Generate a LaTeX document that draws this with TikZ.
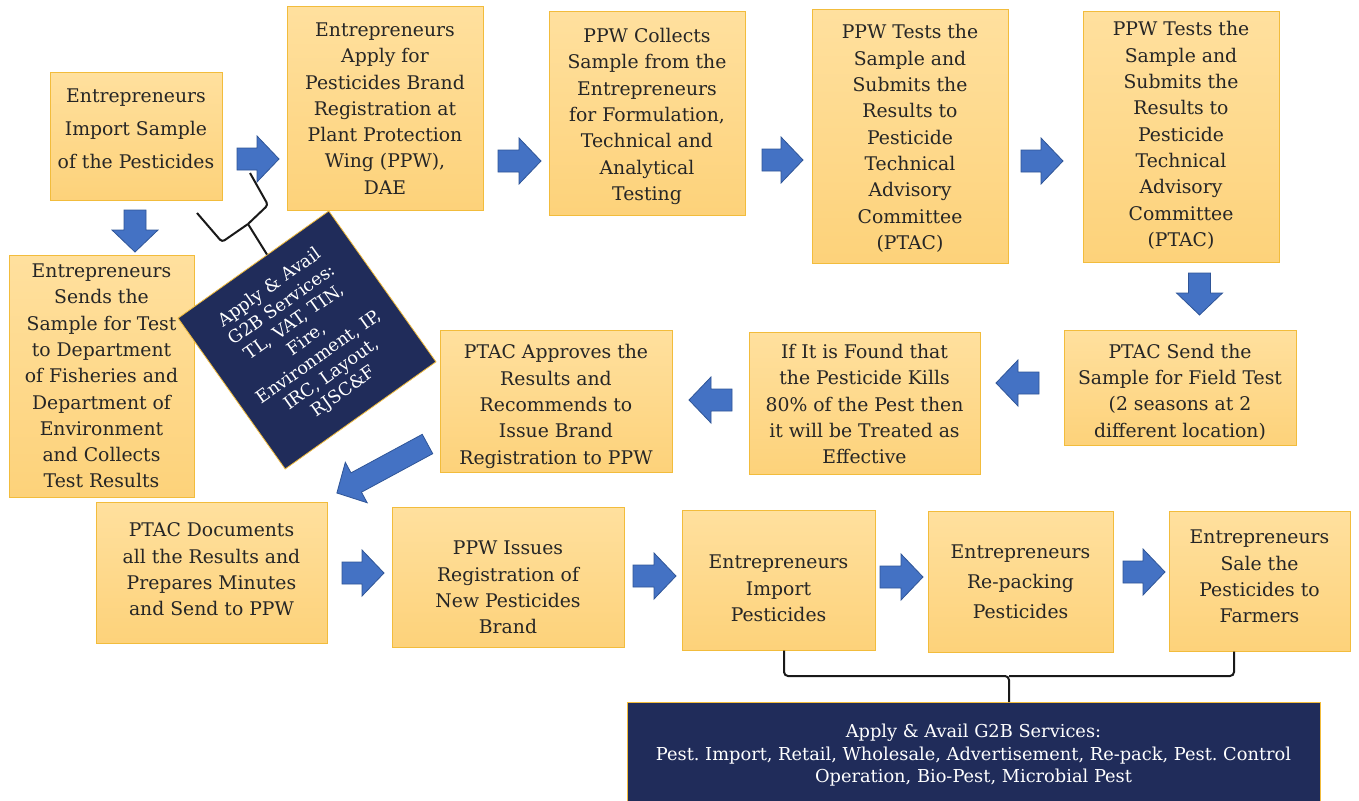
\documentclass[tikz,border=0pt]{standalone}
\usepackage{fontspec}
\setmainfont{DejaVu Serif}
\usetikzlibrary{calc}
\definecolor{boxtop}{HTML}{FFE09E}
\definecolor{boxbot}{HTML}{FDD27A}
\definecolor{boxline}{HTML}{F2BC3C}
\definecolor{navy}{HTML}{202C5A}
\definecolor{arrowfill}{HTML}{4472C4}
\definecolor{arrowline}{HTML}{2F5597}
\definecolor{txt}{HTML}{262626}
\newcommand{\blockarr}[3]{%
  \begin{scope}[shift={(#1)}, rotate=#2]
    \draw[barrowstyle] (0,-11) -- ({#3-22},-11) -- ({#3-22},-23) -- (#3,0)
      -- ({#3-22},23) -- ({#3-22},11) -- (0,11) -- cycle;
  \end{scope}}
\frenchspacing
\begin{document}
\begin{tikzpicture}[x=1pt,y=-1pt,
  stepbox/.style={draw=boxline, line width=1pt, top color=boxtop, bottom color=boxbot, inner sep=0pt},
  steptext/.style={text=txt, align=center, inner sep=0pt, font=\fontsize{18.8}{26.3}\selectfont},
  darkbox/.style={draw=boxline, line width=0.8pt, fill=navy, text=white, align=center, inner sep=0pt},
  barrowstyle/.style={fill=arrowfill, draw=arrowline, line width=0.8pt, line join=miter},
  brace/.style={draw=black!90, line width=2pt, rounded corners=4pt}]
\useasboundingbox (0,0) rectangle (1359,800);
\fill[white] (0,0) rectangle (1359,800);

% boxes
\node[stepbox, minimum width=172, minimum height=128] (b1) at (136,136) {};
\node[stepbox, minimum width=196, minimum height=203] (b2) at (385,108.5) {};
\node[stepbox, minimum width=196, minimum height=203] (b3) at (647,113.5) {};
\node[stepbox, minimum width=196, minimum height=253] (b4) at (910,136.5) {};
\node[stepbox, minimum width=196, minimum height=250] (b5) at (1181,137) {};
\node[stepbox, minimum width=185, minimum height=242] (b6) at (101.5,376) {};
\node[stepbox, minimum width=232, minimum height=115] (b7) at (1180,387.5) {};
\node[stepbox, minimum width=231, minimum height=142] (b8) at (864.5,403) {};
\node[stepbox, minimum width=232, minimum height=142] (b9) at (556,401) {};
\node[stepbox, minimum width=231, minimum height=141] (b10) at (211.5,572.5) {};
\node[stepbox, minimum width=232, minimum height=140] (b11) at (508,577) {};
\node[stepbox, minimum width=193, minimum height=140] (b12) at (778.5,580) {};
\node[stepbox, minimum width=185, minimum height=141] (b13) at (1020.5,581.5) {};
\node[stepbox, minimum width=181, minimum height=140] (b14) at (1259.5,581) {};

% texts
\node[steptext, font=\fontsize{18.8}{33}\selectfont] (t1) at ($(b1.center)+(0,-7)$)
  {Entrepreneurs\\Import Sample\\of the Pesticides};
\node[steptext] (t2) at ($(b2.center)+(0,0)$)
  {Entrepreneurs\\Apply for\\Pesticides Brand\\Registration at\\Plant Protection\\Wing (PPW),\\DAE};
\node[steptext] (t3) at ($(b3.center)+(0,3)$)
  {PPW Collects\\Sample from the\\Entrepreneurs\\for Formulation,\\Technical and\\Analytical\\Testing};
\node[steptext] (t4) at ($(b4.center)+(0,2)$)
  {PPW Tests the\\Sample and\\Submits the\\Results to\\Pesticide\\Technical\\Advisory\\Committee\\(PTAC)};
\node[steptext] (t5) at ($(b5.center)+(0,-1.5)$)
  {PPW Tests the\\Sample and\\Submits the\\Results to\\Pesticide\\Technical\\Advisory\\Committee\\(PTAC)};
\node[steptext] (t6) at ($(b6.center)+(0,0)$)
  {Entrepreneurs\\Sends the\\Sample for Test\\to Department\\of Fisheries and\\Department of\\Environment\\and Collects\\Test Results};
\node[steptext] (t7) at ($(b7.center)+(0,4.5)$)
  {PTAC Send the\\Sample for Field Test\\(2 seasons at 2\\different location)};
\node[steptext] (t8) at ($(b8.center)+(0,1)$)
  {If It is Found that\\the Pesticide Kills\\80\% of the Pest then\\it will be Treated as\\Effective};
\node[steptext] (t9) at ($(b9.center)+(0,5.5)$)
  {PTAC Approves the\\Results and\\Recommends to\\Issue Brand\\Registration to PPW};
\node[steptext] (t10) at ($(b10.center)+(0,-3)$)
  {PTAC Documents\\all the Results and\\Prepares Minutes\\and Send to PPW};
\node[steptext] (t11) at ($(b11.center)+(0,10.5)$)
  {PPW Issues\\Registration of\\New Pesticides\\Brand};
\node[steptext] (t12) at ($(b12.center)+(0,8.5)$)
  {Entrepreneurs\\Import\\Pesticides};
\node[steptext, font=\fontsize{18.8}{30}\selectfont] (t13) at ($(b13.center)+(0,0)$)
  {Entrepreneurs\\Re-packing\\Pesticides};
\node[steptext] (t14) at ($(b14.center)+(0,-4.5)$)
  {Entrepreneurs\\Sale the\\Pesticides to\\Farmers};

% dark service boxes
\node[darkbox, minimum width=185, minimum height=185, text width=178, rotate=35.4,
  font=\fontsize{17.6}{21.3}\selectfont] (g1) at (307,340)
  {Apply \& Avail\\G2B Services:\\TL, VAT, TIN,\\Fire,\\Environment, IP,\\IRC, Layout,\\RJSC\&F};
\node[darkbox, minimum width=693, minimum height=100, anchor=north] (g2) at (973.5,702) {};
\node[text=white, align=center, inner sep=0pt, font=\fontsize{17.8}{22.5}\selectfont] (g2t)
  at ($(g2.center)+(0,3)$)
  {Apply \& Avail G2B Services:\\Pest. Import, Retail, Wholesale, Advertisement, Re-pack, Pest. Control\\Operation, Bio-Pest, Microbial Pest};

% block arrows
\blockarr{237,159}{0}{42}
\blockarr{498,161}{0}{43}
\blockarr{762,160}{0}{41}
\blockarr{1021,161}{0}{42}
\blockarr{135,210}{-90}{42}
\blockarr{1199.5,273}{-90}{42}
\blockarr{1039,383}{180}{43}
\blockarr{732,400}{180}{43}
\blockarr{427.5,444}{-151.6}{103}
\blockarr{342,573}{0}{42}
\blockarr{633,576}{0}{43}
\blockarr{880,577}{0}{43}
\blockarr{1123,572}{0}{42}

% brace to rotated box
\coordinate (la) at (250,173);
\coordinate (lb) at (197,213);
\coordinate (lj) at (248,224);
\draw[brace, rounded corners=3pt] (la) -- (268,205) -- (lj);
\draw[brace, rounded corners=3pt] (lb) -- (222,242) -- (lj);
\draw[brace, rounded corners=3pt] (lj) -- (267,254.5);

% brace to bottom box
\coordinate (bj) at (1009,676);
\draw[brace] (b12.south -| 784,0) -- (784,676) -- (bj) -- (g2.north -| bj);
\draw[brace] (b14.south -| 1234,0) -- (1234,676) -- (bj);
\end{tikzpicture}
\end{document}
